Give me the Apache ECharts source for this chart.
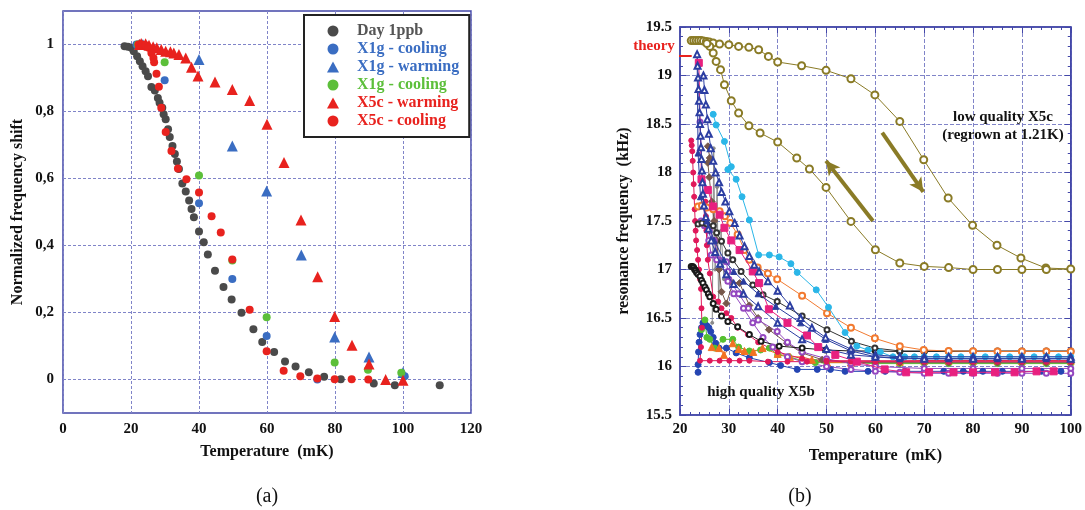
<!DOCTYPE html>
<html><head><meta charset="utf-8">
<script src="https://cdn.jsdelivr.net/npm/echarts@6/dist/echarts.min.js"></script>
<style>html,body{margin:0;padding:0;background:#fff}#c{width:1085px;height:510px}</style>
</head><body><div id="c"></div>
<script>
// ---------------- Panel (a) ----------------
const aYTicks = [0, 0.2, 0.4, 0.6, 0.8, 1];
const aYTickLabels = ['0', '0,2', '0,4', '0,6', '0,8', '1'];
const legendNames = ['Day 1ppb', 'X1g - cooling', 'X1g - warming', 'X1g - cooling ', 'X5c - warming', 'X5c - cooling'];

const day1ppb = [[18.1,0.995],[19.1,0.993],[20.1,0.99],[20.8,0.98],[21.8,0.965],[22.6,0.95],[23.4,0.935],[24.3,0.92],[25.0,0.905],[26.0,0.873],[27.0,0.863],[27.9,0.84],[28.4,0.826],[29.2,0.811],[29.6,0.792],[30.2,0.777],[30.9,0.747],[31.4,0.724],[32.2,0.697],[32.9,0.673],[33.5,0.651],[34.1,0.628],[35.1,0.585],[36.1,0.561],[37.1,0.534],[37.8,0.509],[38.5,0.484],[40.0,0.442],[41.4,0.41],[42.6,0.373],[44.7,0.325],[47.2,0.276],[49.6,0.239],[52.5,0.199],[56.0,0.15],[58.6,0.112],[62.1,0.082],[65.3,0.054],[68.4,0.039],[72.3,0.022],[76.8,0.008],[81.7,0.001],[91.4,-0.012],[97.6,-0.017],[110.8,-0.017]];
const x1gCoolingBlue = [[21.6,1.0],[29.9,0.893],[40.0,0.526],[49.8,0.30],[59.9,0.13],[74.8,0.0],[100.5,0.01]];
const x1gWarming = [[22.4,1.0],[23.5,1.0],[40.0,0.955],[49.8,0.697],[59.9,0.563],[70.1,0.372],[79.9,0.127],[90.0,0.067],[100.0,0.021]];
const x1gCoolingGreen = [[22.0,1.0],[29.9,0.947],[40.0,0.609],[49.8,0.355],[59.9,0.186],[79.9,0.051],[89.7,0.029],[99.5,0.02]];
const x5cWarming = [[22.5,1.0],[23.0,1.003],[24.3,1.002],[25.3,0.998],[26.5,0.993],[27.6,0.99],[28.9,0.985],[30.2,0.98],[31.6,0.978],[32.6,0.975],[34.1,0.97],[36.1,0.96],[37.8,0.932],[39.7,0.906],[44.7,0.888],[49.8,0.866],[54.9,0.833],[60.0,0.762],[65.0,0.648],[70.0,0.476],[74.9,0.307],[79.9,0.188],[85.0,0.102],[90.0,0.046],[94.9,0.0],[100.0,-0.002]];
const x5cCooling = [[22.2,1.0],[23.2,1.0],[24.3,0.998],[25.2,0.99],[26.0,0.975],[26.6,0.96],[26.8,0.947],[27.5,0.913],[28.2,0.874],[28.9,0.811],[30.2,0.739],[31.9,0.682],[33.8,0.63],[36.3,0.598],[40.0,0.558],[43.7,0.487],[46.4,0.439],[49.8,0.358],[54.9,0.208],[59.9,0.084],[64.9,0.026],[69.8,0.01],[74.8,0.003],[79.9,0.001],[84.9,0.001],[89.8,0.0]];

// ---------------- Panel (b) ----------------
const theoryValue = 19.2;
const theoryLineX = [14.1, 22.4];
const arrowCooling = [[59.5,17.5],[49.9,18.12]];
const arrowWarming = [[61.4,18.41],[69.8,17.8]];

const oliveLoop = [[22.3,19.36],[22.8,19.36],[23.3,19.36],[23.8,19.36],[24.3,19.36],[24.8,19.355],[25.4,19.35],[26.0,19.345],[26.8,19.335],[28.1,19.325],[30.0,19.318],[32.0,19.30],[34.1,19.29],[36.1,19.266],[38.1,19.197],[40.0,19.139],[44.9,19.101],[49.9,19.053],[55.0,18.967],[59.9,18.80],[65.0,18.527],[69.9,18.132],[74.9,17.737],[79.9,17.455],[84.9,17.25],[89.8,17.118],[94.9,17.015],[100,17.005],[95,17.0],[90,17.0],[85,17.0],[80,17.0],[75,17.02],[70,17.032],[65,17.067],[60,17.204],[55,17.496],[49.9,17.846],[46.5,18.036],[43.9,18.149],[40,18.314],[36.4,18.407],[34.1,18.482],[32,18.613],[30.5,18.74],[29.1,18.905],[28.3,19.06],[27.4,19.145],[26.8,19.232],[26.1,19.30],[25.5,19.33]];
const navyOpenA = [[23.5,19.22],[23.6,19.1],[23.7,18.98],[23.8,18.86],[23.9,18.74],[24.0,18.62],[24.1,18.5],[24.2,18.38],[24.3,18.26],[24.4,18.14],[24.5,18.02],[24.6,17.9],[24.7,17.78],[24.9,17.66],[25.3,17.54],[25.8,17.42],[26.4,17.3],[27.2,17.18],[28.2,17.06],[29.5,16.95],[31,16.85],[33,16.75],[36,16.62],[40,16.45],[45,16.28],[50,16.18],[55,16.12],[60,16.1],[70,16.08],[80,16.08],[90,16.08],[100,16.08]];
const navyOpenB = [[24.8,19.0],[25.0,18.85],[25.3,18.7],[25.6,18.55],[25.9,18.4],[26.3,18.25],[26.8,18.12],[27.3,18.0],[28.0,17.9],[28.5,17.8],[29.3,17.7],[30.1,17.6],[31.2,17.48],[32.2,17.35],[33.2,17.24],[34.2,17.14],[35.2,17.05],[36.2,16.98],[38,16.88],[40,16.78],[42.5,16.63],[44.7,16.5],[47,16.4],[49.8,16.3],[55,16.18],[60,16.12],[65,16.1],[70,16.1],[75,16.1],[80,16.1],[85,16.1],[90,16.1],[95,16.1],[100,16.1]];
const navyFilled = [[23.5,19.22],[23.7,18.2],[24.2,17.75],[25.5,17.5],[27,17.3],[29,17.1],[31,16.98],[33,16.88],[36,16.75],[39.6,16.62],[44.7,16.45],[49.8,16.28],[55,16.16],[60,16.1],[65,16.08],[70,16.08],[75,16.08],[80,16.08],[85,16.08],[90,16.08],[95,16.08],[100,16.08]];
const cyanFilled = [[26.8,18.6],[27.4,18.49],[29.1,18.32],[30.5,18.06],[29.8,18.03],[31.5,17.93],[32.7,17.75],[34.2,17.51],[36.1,17.15],[38.3,17.15],[40.3,17.13],[42.7,17.06],[44,16.97],[47.9,16.79],[50.4,16.61],[53.8,16.35],[56.2,16.21],[58.5,16.17],[61,16.15],[63.6,16.1],[66,16.1],[68,16.1],[70,16.1],[72.5,16.1],[75,16.1],[77.5,16.1],[80,16.1],[82.5,16.1],[85,16.1],[87.5,16.1],[90,16.1],[92.5,16.1],[95,16.1],[97.5,16.1],[100,16.1]];
const orangeOpen = [[23.7,17.65],[24.5,17.66],[25.5,17.64],[26.8,17.62],[28.1,17.6],[29.2,17.55],[30.3,17.48],[31.8,17.36],[33.2,17.2],[34.2,17.1],[35.9,17.02],[38,16.96],[39.9,16.9],[45,16.73],[50.1,16.55],[55,16.4],[59.9,16.29],[65,16.21],[69.9,16.17],[75,16.16],[80,16.156],[85,16.155],[90,16.155],[95,16.155],[100,16.155]];
const blackOpenA = [[22.3,17.03],[22.6,17.03],[22.8,17.02],[23.0,17.0],[23.2,16.99],[23.4,16.97],[23.7,16.95],[24.1,16.93],[24.4,16.89],[24.7,16.86],[25.1,16.82],[25.4,16.79],[25.8,16.75],[26.1,16.72],[26.8,16.65],[27.4,16.59],[28.5,16.52],[29.8,16.465],[31.8,16.41],[34.2,16.33],[36.6,16.26],[40.3,16.21],[45,16.19],[49.8,16.17],[55,16.16],[60,16.16],[65,16.155],[70,16.155],[75,16.155],[80,16.155],[85,16.155],[90,16.155],[95,16.155],[100,16.155]];
const blackOpenB = [[23.7,17.47],[24.5,17.48],[25.5,17.47],[26.8,17.45],[27.5,17.38],[28.5,17.29],[29.8,17.17],[30.8,17.1],[32.5,16.98],[34.9,16.84],[37,16.74],[39.9,16.67],[45,16.52],[50.1,16.38],[55.1,16.26],[59.9,16.19],[65,16.16],[70,16.16],[75,16.16],[80,16.16],[85,16.16],[90,16.16],[95,16.16],[100,16.16]];
const pinkSquares = [[23.85,19.13],[24.4,17.93],[25.7,17.82],[26.8,17.65],[28.1,17.565],[29.1,17.43],[30.5,17.3],[32.2,17.2],[34.9,16.98],[36.2,16.86],[38.2,16.59],[42,16.45],[46,16.32],[48.3,16.2],[51.8,16.12],[56.2,16.05],[61.9,15.97],[66.3,15.94],[71,15.94],[76,15.94],[80,15.94],[84.5,15.94],[88.5,15.94],[93,15.95],[96.5,15.95]];
const crimsonA = [[22.3,18.33],[22.4,18.28],[22.5,18.22],[22.6,18.12],[22.7,18.0],[22.8,17.88],[22.9,17.75],[23.0,17.62],[23.1,17.5],[23.2,17.4],[23.3,17.3],[23.5,17.2],[23.7,17.1],[23.9,17.0],[24.1,16.9],[24.3,16.8],[24.4,16.6],[24.5,16.4],[24.3,16.2],[24.1,16.06],[26.1,16.06],[28.1,16.06],[30.1,16.06],[32.2,16.06],[34.2,16.06],[38,16.05],[42,16.05],[46,16.05],[50,16.05],[55,16.05],[60,16.05],[65,16.05],[70,16.05],[75,16.05],[80,16.05],[85,16.05],[90,16.05],[95,16.05],[100,16.05]];
const crimsonB = [[25.2,17.7],[25.3,17.55],[25.4,17.4],[25.5,17.25],[25.7,17.1],[26.1,16.96],[26.8,16.72],[27.8,16.67],[28.5,16.6],[29.5,16.55],[30.5,16.5],[31.8,16.4],[33.9,16.33],[36,16.25],[40,16.15],[45,16.08],[50,16.06],[55,16.06],[60,16.06],[65,16.06],[70,16.06],[75,16.06],[80,16.06],[85,16.06],[90,16.06],[95,16.06],[100,16.06]];
const purpleA = [[24.1,18.52],[24.6,17.9],[25.1,17.46],[25.9,17.3],[26.4,17.15],[27.5,17.1],[29.5,17.08],[29.8,16.98],[29.8,16.88],[31,16.75],[33,16.6],[34.9,16.45],[37,16.3],[39,16.2],[42,16.1],[45,16.05],[50,16.0],[55,15.97],[60,15.95],[65,15.94],[70,15.93],[75,15.93],[80,15.93],[85,15.93],[90,15.93],[95,15.93],[100,15.93]];
const purpleB = [[24.3,17.5],[25,17.45],[26,17.4],[27,17.3],[28,17.1],[30,16.9],[32,16.75],[34,16.6],[36,16.48],[39.9,16.36],[42,16.25],[45,16.15],[50,16.08],[55,16.03],[60,16.0],[70,15.98],[80,15.98],[90,15.98],[100,15.98]];
const brownDiamonds = [[25.7,18.27],[26.1,18.15],[25.7,18.1],[26.0,17.95],[26.5,17.7],[27,17.5],[27.5,17.3],[28,17.0],[28.5,16.77],[29.5,16.65],[30.8,16.86],[32.2,16.86],[34.2,16.63],[36,16.5],[38.2,16.38],[41.9,16.24],[45,16.14],[49.1,16.07],[55,16.04],[60,16.04],[65,16.04],[70,16.04],[75,16.04],[80,16.04],[85,16.04],[90,16.04],[95,16.04],[100,16.04]];
const greenFilled = [[24.4,16.38],[25.1,16.48],[25.5,16.3],[26.1,16.28],[27.1,16.19],[28.8,16.28],[30.8,16.28],[32,16.2],[34.2,16.16],[36.5,16.17],[38.3,16.19],[40,16.12],[42.3,16.1],[45,16.06],[47.7,16.04],[50,16.04],[55,16.04],[60,16.03],[65,16.03],[70,16.03],[75,16.03],[80,16.03],[85,16.03],[90,16.03],[95,16.03],[100,16.03]];
const orangeTriangles = [[26.5,16.2],[28,16.19],[29,16.12],[30.8,16.24],[32,16.18],[33.2,16.16],[35,16.15],[36.9,16.19],[40,16.13],[42.5,16.1],[45,16.1],[47,16.07],[50.1,16.04],[55,16.04],[60,16.05],[65,16.05],[70,16.06],[75,16.06],[80,16.06],[85,16.06],[90,16.06],[95,16.06],[100,16.06]];
const royalBlue = [[23.7,15.94],[23.7,16.02],[23.8,16.15],[23.9,16.25],[24.1,16.33],[24.4,16.4],[24.7,16.45],[25.1,16.44],[25.5,16.42],[25.9,16.4],[26.3,16.36],[26.8,16.3],[27.3,16.24],[28,16.19],[29.5,16.19],[31.5,16.14],[34.2,16.09],[38.3,16.04],[40.6,16.01],[44,15.97],[48.1,15.97],[50.8,15.97],[53.8,15.95],[58.5,15.95],[62,15.95],[66,15.95],[70,15.95],[74,15.95],[78,15.95],[82,15.95],[86,15.95],[90,15.95],[94,15.95],[98,15.95]];
const grayZigzag = [[26.6,16.45],[26.9,18.25],[27.2,17.0],[27.6,17.85],[27.9,16.65],[28.4,17.4],[29.0,16.9]];

// ---------------- styles ----------------
const SERIF = '"Liberation Serif", "DejaVu Serif", serif';
const frameBlue = '#4347a8';
const gridBlue = '#8084c8';
const olive = '#8a7b26';
const txt = { fontFamily: SERIF, fontWeight: 'bold', fontSize: 15, color: '#111' };
const titleTxt = { fontFamily: SERIF, fontWeight: 'bold', fontSize: 16, color: '#111' };

function nearLabel(v) {
  for (let i = 0; i < aYTicks.length; i++) if (Math.abs(aYTicks[i] - v) < 1e-6) return aYTickLabels[i];
  return '';
}

function aSeries(name, data, color, symbol, size, z) {
  return { name, type: 'scatter', xAxisIndex: 0, yAxisIndex: 0, data, symbol, symbolSize: size,
    symbolKeepAspect: true, itemStyle: { color, opacity: 1 }, z: z || 2 };
}
function bSeries(name, data, color, symbol, size, z) {
  return { name, type: 'line', xAxisIndex: 1, yAxisIndex: 1, data, symbol, symbolSize: size, showSymbol: true,
    lineStyle: { color, width: 1 }, itemStyle: { color, borderColor: color, borderWidth: 1 }, z: z || 2, animation: false };
}

const series = [
  aSeries('Day 1ppb', day1ppb, '#4a4a4a', 'circle', 8, 2),
  aSeries('X1g - cooling', x1gCoolingBlue, '#3a6dc2', 'circle', 8, 3),
  aSeries('X1g - warming', x1gWarming, '#3a6dc2', 'triangle', 11, 3),
  aSeries('X1g - cooling ', x1gCoolingGreen, '#5cbf3a', 'circle', 8, 3),
  aSeries('X5c - warming', x5cWarming, '#e8221e', 'triangle', 11, 4),
  aSeries('X5c - cooling', x5cCooling, '#e8221e', 'circle', 8, 4),

  bSeries('b-gray', grayZigzag, '#8a8a8a', 'circle', 3, 2),
  bSeries('b-royal', royalBlue, '#2545b2', 'circle', 6, 3),
  bSeries('b-green', greenFilled, '#55c030', 'circle', 6, 3),
  bSeries('b-orangeTri', orangeTriangles, '#f27222', 'triangle', 7, 3),
  bSeries('b-brown', brownDiamonds, '#76574a', 'diamond', 7, 3),
  bSeries('b-purpleB', purpleB, '#9448c0', 'emptyCircle', 5, 3),
  bSeries('b-purpleA', purpleA, '#9448c0', 'emptyCircle', 5, 3),
  bSeries('b-crimsonB', crimsonB, '#e0185a', 'circle', 5, 3),
  bSeries('b-crimsonA', crimsonA, '#e0185a', 'circle', 5, 3),
  bSeries('b-blackA', blackOpenA, '#1a1a1a', 'emptyCircle', 5, 3),
  bSeries('b-blackB', blackOpenB, '#333333', 'emptyCircle', 5, 3),
  bSeries('b-orangeOpen', orangeOpen, '#f27a30', 'emptyCircle', 6, 3),
  bSeries('b-cyan', cyanFilled, '#2ab6e8', 'circle', 6, 3),
  bSeries('b-pink', pinkSquares, '#e8207f', 'rect', 7, 4),
  bSeries('b-navyFilled', navyFilled, '#2a3c9e', 'triangle', 6, 4),
  bSeries('b-navyB', navyOpenB, '#2c3ea2', 'emptyTriangle', 6, 4),
  bSeries('b-navyA', navyOpenA, '#2c3ea2', 'emptyTriangle', 6, 4),
  Object.assign(bSeries('b-olive', oliveLoop, olive, 'emptyCircle', 7, 5), {
    markLine: { silent: true, animation: false, symbol: ['none', 'arrow'], symbolSize: [11, 14],
      lineStyle: { color: olive, width: 4, type: 'solid' }, label: { show: false },
      data: [
        [{ coord: arrowCooling[0] }, { coord: arrowCooling[1] }],
        [{ coord: arrowWarming[0] }, { coord: arrowWarming[1] }]
      ] }
  }),
  { name: 'theory', type: 'line', xAxisIndex: 1, yAxisIndex: 1, clip: false, symbol: 'none',
    data: theoryLineX.map(x => [x, theoryValue]), lineStyle: { color: '#e8221e', width: 2 }, z: 6, animation: false }
];

const legendColors = ['#555555', '#3a6dc2', '#3a6dc2', '#5cbf3a', '#e8221e', '#e8221e'];

const option = {
  animation: false,
  backgroundColor: '#fff',
  textStyle: { fontFamily: SERIF },
  grid: [
    { left: 63, top: 11, width: 408, height: 402, show: true, borderColor: frameBlue, borderWidth: 1.5, backgroundColor: 'transparent' },
    { left: 680, top: 27, width: 394.5, height: 388, show: true, borderColor: frameBlue, borderWidth: 1.5, backgroundColor: 'transparent' }
  ],
  legend: {
    data: legendNames.map((n, i) => ({ name: n, textStyle: { color: legendColors[i] } })),
    orient: 'vertical', left: 304, top: 15, padding: [8, 10, 8, 23], itemGap: 2,
    itemWidth: 12, itemHeight: 11, backgroundColor: '#fff', borderColor: '#222', borderWidth: 2,
    textStyle: { fontFamily: SERIF, fontWeight: 'bold', fontSize: 16, padding: [0, 0, 0, 13] }, selectedMode: false
  },
  xAxis: [
    { gridIndex: 0, type: 'value', min: 0, max: 120, interval: 20,
      axisLine: { show: false }, axisTick: { show: false },
      axisLabel: Object.assign({ margin: 9 }, txt),
      splitLine: { show: true, lineStyle: { color: gridBlue, type: [3, 2], width: 1 } },
      name: 'Temperature  (mK)', nameLocation: 'middle', nameGap: 31, nameTextStyle: titleTxt },
    { gridIndex: 1, type: 'value', min: 20, max: 100, interval: 10,
      axisLine: { show: true, lineStyle: { color: frameBlue, width: 1.5 } },
      axisTick: { show: true, inside: true, length: 6, lineStyle: { color: frameBlue } },
      minorTick: { show: true, splitNumber: 5, length: 3, lineStyle: { color: frameBlue } },
      axisLabel: Object.assign({ margin: 7 }, txt),
      splitLine: { show: true, lineStyle: { color: gridBlue, type: [4, 2], width: 1 } },
      name: 'Temperature  (mK)', nameLocation: 'middle', nameGap: 33, nameTextStyle: titleTxt },
    { gridIndex: 1, type: 'value', position: 'top', min: 20, max: 100, interval: 10,
      axisLine: { show: true, lineStyle: { color: frameBlue, width: 1.5 } },
      axisTick: { show: true, inside: true, length: 6, lineStyle: { color: frameBlue } },
      minorTick: { show: true, splitNumber: 5, length: 3, lineStyle: { color: frameBlue } },
      axisLabel: { show: false }, splitLine: { show: false } }
  ],
  yAxis: [
    { gridIndex: 0, type: 'value', min: -0.1, max: 1.1,
      axisLine: { show: false }, axisTick: { show: false, customValues: aYTicks },
      axisLabel: Object.assign({ margin: 9, customValues: aYTicks, formatter: nearLabel }, txt),
      splitLine: { show: true, lineStyle: { color: gridBlue, type: [3, 2], width: 1 } },
      name: 'Normalized frequency shift', nameLocation: 'middle', nameGap: 37, nameTextStyle: titleTxt },
    { gridIndex: 1, type: 'value', min: 15.5, max: 19.5, interval: 0.5,
      axisLine: { show: true, lineStyle: { color: frameBlue, width: 1.5 } },
      axisTick: { show: true, inside: true, length: 6, lineStyle: { color: frameBlue } },
      minorTick: { show: true, splitNumber: 5, length: 3, lineStyle: { color: frameBlue } },
      axisLabel: Object.assign({ margin: 8 }, txt),
      splitLine: { show: true, lineStyle: { color: gridBlue, type: [4, 2], width: 1 } },
      name: 'resonance frequency  (kHz)', nameLocation: 'middle', nameGap: 48, nameTextStyle: titleTxt },
    { gridIndex: 1, type: 'value', position: 'right', min: 15.5, max: 19.5, interval: 0.5,
      axisLine: { show: true, lineStyle: { color: frameBlue, width: 1.5 } },
      axisTick: { show: true, inside: true, length: 6, lineStyle: { color: frameBlue } },
      minorTick: { show: true, splitNumber: 5, length: 3, lineStyle: { color: frameBlue } },
      axisLabel: { show: false }, splitLine: { show: false } }
  ],
  graphic: [
    { type: 'text', x: 267, y: 497, style: { text: '(a)', font: '20px ' + SERIF, fill: '#111', align: 'center', verticalAlign: 'middle', textAlign: 'center', textVerticalAlign: 'middle' } },
    { type: 'text', x: 800, y: 497, style: { text: '(b)', font: '20px ' + SERIF, fill: '#111', align: 'center', verticalAlign: 'middle', textAlign: 'center', textVerticalAlign: 'middle' } },
    { type: 'text', x: 654, y: 46, z: 10, style: { text: 'theory', font: 'bold 15px ' + SERIF, fill: '#e8221e', align: 'center', verticalAlign: 'middle', textAlign: 'center', textVerticalAlign: 'middle' } },
    { type: 'text', x: 1003, y: 117, z: 10, style: { text: 'low quality X5c', font: 'bold 15px ' + SERIF, fill: '#111', align: 'center', verticalAlign: 'middle', textAlign: 'center', textVerticalAlign: 'middle' } },
    { type: 'text', x: 1003, y: 135, z: 10, style: { text: '(regrown at 1.21K)', font: 'bold 15px ' + SERIF, fill: '#111', align: 'center', verticalAlign: 'middle', textAlign: 'center', textVerticalAlign: 'middle' } },
    { type: 'text', x: 761, y: 392, z: 10, style: { text: 'high quality X5b', font: 'bold 15px ' + SERIF, fill: '#111', align: 'center', verticalAlign: 'middle', textAlign: 'center', textVerticalAlign: 'middle' } }
  ],
  series
};

const chart = echarts.init(document.getElementById('c'), null, { renderer: 'canvas' });
chart.setOption(option);
</script>
</body></html>
